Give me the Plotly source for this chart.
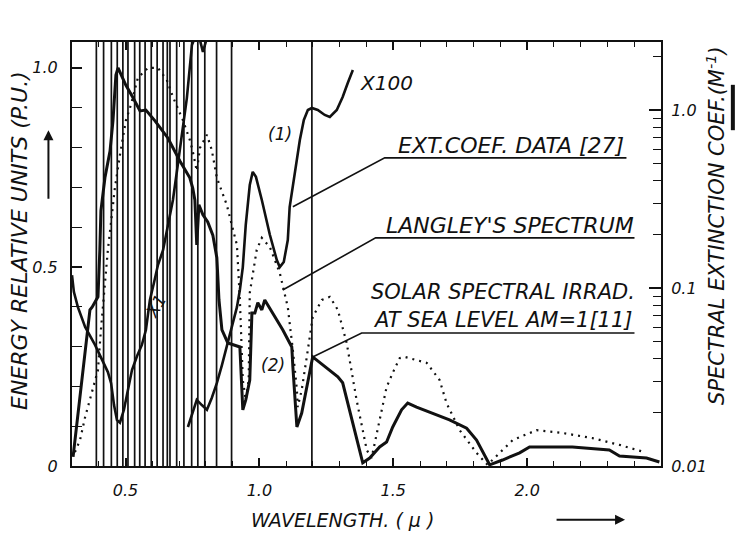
import plotly.graph_objects as go

# ---------------- data ----------------
# wavelengths (micron) of the absorption lines drawn as vertical rules
absorption_lines = [0.391, 0.418, 0.447, 0.469, 0.490, 0.509, 0.534, 0.553, 0.573, 0.596,
                    0.618, 0.640, 0.656, 0.666, 0.691, 0.718, 0.747, 0.770, 0.796, 0.840,
                    0.896, 1.196]

# (2) solar spectral irradiance at sea level, AM=1  (relative units, left axis)
solar_wl = [0.304, 0.367, 0.375, 0.397, 0.404, 0.408, 0.423, 0.442, 0.453, 0.460, 0.464, 0.472,
            0.483, 0.501, 0.528, 0.554, 0.576, 0.610, 0.658, 0.703, 0.740, 0.751, 0.759, 0.766,
            0.774, 0.789, 0.807, 0.826, 0.841, 0.849, 0.860, 0.882, 0.927, 0.934, 0.938, 0.949,
            0.964, 0.972, 0.983, 0.994, 1.009, 1.020, 1.087, 1.121, 1.125, 1.140, 1.158, 1.199,
            1.263, 1.293, 1.311, 1.386, 1.412, 1.449, 1.475, 1.498, 1.531, 1.554, 1.587, 1.636,
            1.710, 1.774, 1.811, 1.860, 1.908, 1.972, 2.009, 2.169, 2.307, 2.345, 2.446, 2.494]
solar_val = [0.023, 0.392, 0.399, 0.425, 0.543, 0.641, 0.724, 0.791, 0.867, 0.950, 0.982, 1.000,
             0.982, 0.957, 0.925, 0.892, 0.894, 0.867, 0.824, 0.766, 0.724, 0.698, 0.668, 0.555,
             0.656, 0.631, 0.613, 0.580, 0.523, 0.417, 0.342, 0.309, 0.299, 0.204, 0.141, 0.166,
             0.216, 0.384, 0.384, 0.410, 0.392, 0.417, 0.342, 0.299, 0.249, 0.098, 0.133, 0.274,
             0.241, 0.224, 0.209, 0.008, 0.020, 0.048, 0.060, 0.098, 0.141, 0.158, 0.148, 0.136,
             0.116, 0.095, 0.065, 0.003, 0.015, 0.033, 0.048, 0.048, 0.040, 0.025, 0.020, 0.010]

# Langley's spectrum (dotted, relative units, left axis)
langley_wl = [0.311, 0.330, 0.349, 0.378, 0.397, 0.408, 0.423, 0.434, 0.449, 0.460, 0.479, 0.501,
              0.520, 0.546, 0.584, 0.621, 0.654, 0.677, 0.714, 0.740, 0.751, 0.766, 0.778, 0.804,
              0.822, 0.841, 0.878, 0.916, 0.927, 0.938, 0.949, 0.960, 0.964, 0.990, 1.009, 1.039,
              1.076, 1.106, 1.125, 1.140, 1.143, 1.158, 1.177, 1.199, 1.233, 1.263, 1.293, 1.326,
              1.363, 1.401, 1.419, 1.449, 1.475, 1.498, 1.524, 1.543, 1.625, 1.673, 1.699, 1.748,
              1.811, 1.852, 1.897, 1.946, 2.035, 2.132, 2.244, 2.345, 2.438]
langley_val = [0.035, 0.065, 0.123, 0.191, 0.241, 0.342, 0.460, 0.543, 0.631, 0.698, 0.781, 0.867,
               0.907, 0.975, 1.000, 1.000, 0.970, 0.927, 0.869, 0.819, 0.791, 0.741, 0.799, 0.832,
               0.794, 0.724, 0.656, 0.555, 0.417, 0.216, 0.166, 0.216, 0.435, 0.543, 0.573, 0.550,
               0.485, 0.399, 0.291, 0.191, 0.148, 0.191, 0.274, 0.374, 0.417, 0.425, 0.392, 0.309,
               0.166, 0.040, 0.020, 0.116, 0.198, 0.234, 0.271, 0.274, 0.259, 0.216, 0.158, 0.090,
               0.033, 0.003, 0.033, 0.065, 0.090, 0.083, 0.070, 0.053, 0.035]

# (1) extinction coefficient data [27], x1 part (m^-1, right log axis)
ext1_wl = [0.300, 0.307, 0.322, 0.349, 0.386, 0.408, 0.434, 0.446, 0.457, 0.468, 0.479, 0.494,
           0.509, 0.524, 0.543, 0.561, 0.576, 0.591, 0.606, 0.621, 0.640, 0.658, 0.677, 0.692,
           0.710, 0.729, 0.748, 0.763, 0.778, 0.789, 0.804, 0.815]
ext1_coef = [0.118, 0.0951, 0.0781, 0.0604, 0.0479, 0.0409, 0.0337, 0.0292, 0.0220, 0.0181,
             0.0175, 0.0207, 0.0267, 0.0346, 0.0415, 0.0479, 0.0581, 0.0857, 0.1067, 0.1346,
             0.163, 0.226, 0.312, 0.454, 0.697, 1.167, 2.32, 2.64, 2.47, 2.12, 2.54, 2.81]

# (1) extinction coefficient data [27], x100 part (coef / 100, right log axis)
ext100_wl = [0.733, 0.748, 0.766, 0.785, 0.804, 0.822, 0.841, 0.860, 0.878, 0.897, 0.916, 0.927,
             0.938, 0.949, 0.964, 0.975, 0.987, 1.009, 1.039, 1.065, 1.076, 1.091, 1.106, 1.113,
             1.125, 1.140, 1.151, 1.166, 1.181, 1.196, 1.218, 1.244, 1.263, 1.289, 1.311, 1.330,
             1.349]
ext100_coef = [0.01656, 0.01936, 0.0235, 0.0220, 0.0207, 0.0241, 0.0292, 0.0369, 0.0467, 0.0604,
               0.0781, 0.0975, 0.131, 0.226, 0.379, 0.449, 0.421, 0.312, 0.199, 0.1435, 0.131,
               0.140, 0.186, 0.285, 0.379, 0.558, 0.678, 0.879, 1.0, 1.026, 1.0, 0.938, 0.914,
               1.0, 1.183, 1.418, 1.679]

x_ticks = [0.5, 1.0, 1.5, 2.0]
x_tick_text = ["0.5", "1.0", "1.5", "2.0"]
y_ticks = [0, 0.5, 1.0]
y_tick_text = ["0", "0.5", "1.0"]
y2_ticks = [0.01, 0.1, 1.0]
y2_tick_text = ["0.01", "0.1", "1.0"]
y2_minor = [0.02, 0.03, 0.04, 0.05, 0.06, 0.07, 0.08, 0.09,
            0.2, 0.3, 0.4, 0.5, 0.6, 0.7, 0.8, 0.9, 2.0]

# ---------------- figure ----------------
INK = "#111111"
FONT = "DejaVu Sans"
Y_TOP = 1.065

fig = go.Figure()

vx, vy = [], []
for w in absorption_lines:
    vx += [w, w, None]
    vy += [0, Y_TOP, None]
fig.add_trace(go.Scatter(x=vx, y=vy, mode="lines", line=dict(color=INK, width=1.7),
                         hoverinfo="skip", showlegend=False))

fig.add_trace(go.Scatter(x=langley_wl, y=langley_val, mode="lines",
                         line=dict(color=INK, width=2.2, dash="2px,5px"), showlegend=False))
fig.add_trace(go.Scatter(x=solar_wl, y=solar_val, mode="lines",
                         line=dict(color=INK, width=3), showlegend=False))
fig.add_trace(go.Scatter(x=ext1_wl, y=ext1_coef, mode="lines", yaxis="y2",
                         line=dict(color=INK, width=2.6), showlegend=False))
fig.add_trace(go.Scatter(x=ext100_wl, y=ext100_coef, mode="lines", yaxis="y2",
                         line=dict(color=INK, width=2.6), showlegend=False))

# leader lines of the labels
leaders = [
    [(1.125, 0.651), (1.468, 0.774), (2.371, 0.774)],
    [(1.087, 0.442), (1.434, 0.573), (2.401, 0.573)],
    [(1.199, 0.274), (1.382, 0.334), (2.401, 0.334)],
]
for pts in leaders:
    path = "M " + " L ".join(f"{a},{b}" for a, b in pts)
    fig.add_shape(type="path", path=path, xref="x", yref="y",
                  line=dict(color=INK, width=1.6))

def txt(x, y, s, size=18, xanchor="center", angle=0, xref="x", yref="y"):
    fig.add_annotation(x=x, y=y, xref=xref, yref=yref, text=s, showarrow=False,
                       xanchor=xanchor, yanchor="middle", textangle=angle,
                       font=dict(family=FONT, size=size, color=INK, style="italic"))

txt(1.938, 0.806, "EXT.COEF. DATA [27]", size=22)
txt(1.935, 0.604, "LANGLEY'S SPECTRUM", size=22)
txt(1.910, 0.438, "SOLAR SPECTRAL IRRAD.", size=21)
txt(1.910, 0.367, "AT SEA LEVEL AM=1[11]", size=21)
txt(1.367, 0.962, "X100", size=20, xanchor="left")
txt(1.076, 0.834, "(1)", size=17)
txt(1.050, 0.254, "(2)", size=17)
txt(0.613, 0.402, "X1", size=17, angle=-60)

# axis titles
txt(-0.090, 0.533, "ENERGY RELATIVE UNITS (P.U.)", size=22, angle=-90, xref="paper", yref="paper")
txt(1.093, 0.568, "SPECTRAL EXTINCTION COEF.(M<sup>-1</sup>)", size=21, angle=-90,
    xref="paper", yref="paper")
txt(0.460, -0.127, "WAVELENGTH. ( <i>µ</i> )", size=19, xref="paper", yref="paper")

# arrows
fig.add_annotation(x=0.939, y=-0.127, xref="paper", yref="paper", ax=-70, ay=0,
                   showarrow=True, arrowhead=2, arrowsize=1, arrowwidth=2, arrowcolor=INK, text="")
fig.add_annotation(x=-0.040, y=0.792, xref="paper", yref="paper", ax=0, ay=70,
                   showarrow=True, arrowhead=2, arrowsize=1, arrowwidth=2, arrowcolor=INK, text="")
fig.add_shape(type="line", xref="paper", yref="paper", x0=1.122, x1=1.122, y0=0.792, y1=0.899,
              line=dict(color=INK, width=4))

tickfont = dict(family=FONT, size=16, color=INK, style="italic")
fig.update_layout(
    width=741, height=549,
    margin=dict(l=72, r=80, t=42, b=83),
    paper_bgcolor="white", plot_bgcolor="white",
    showlegend=False,
    xaxis=dict(range=[0.3, 2.5], tickvals=x_ticks, ticktext=x_tick_text,
               ticks="inside", ticklen=8, tickwidth=1.6, tickcolor=INK,
               minor=dict(dtick=0.1, tick0=0, ticks="inside", ticklen=5, tickwidth=1.4,
                          tickcolor=INK, showgrid=False),
               showline=True, linewidth=2, linecolor=INK, mirror="ticks",
               showgrid=False, zeroline=False, tickfont=tickfont, ticklabelstandoff=9),
    yaxis=dict(range=[0, Y_TOP], tickvals=y_ticks, ticktext=y_tick_text,
               ticks="inside", ticklen=10, tickwidth=1.6, tickcolor=INK,
               minor=dict(dtick=0.1, tick0=0, ticks="inside", ticklen=10, tickwidth=1.4,
                          tickcolor=INK, showgrid=False),
               showline=True, linewidth=2, linecolor=INK,
               showgrid=False, zeroline=False, tickfont=tickfont, ticklabelstandoff=9),
    yaxis2=dict(type="log", range=[-2, 0.382], overlaying="y", side="right",
                tickvals=y2_ticks, ticktext=y2_tick_text,
                ticks="inside", ticklen=12, tickwidth=1.6, tickcolor=INK,
                minor=dict(tickvals=y2_minor, ticks="inside", ticklen=8, tickwidth=1.4,
                           tickcolor=INK, showgrid=False),
                showline=True, linewidth=2, linecolor=INK,
                showgrid=False, zeroline=False, tickfont=tickfont, ticklabelstandoff=5),
)

fig.write_html("out.html")
